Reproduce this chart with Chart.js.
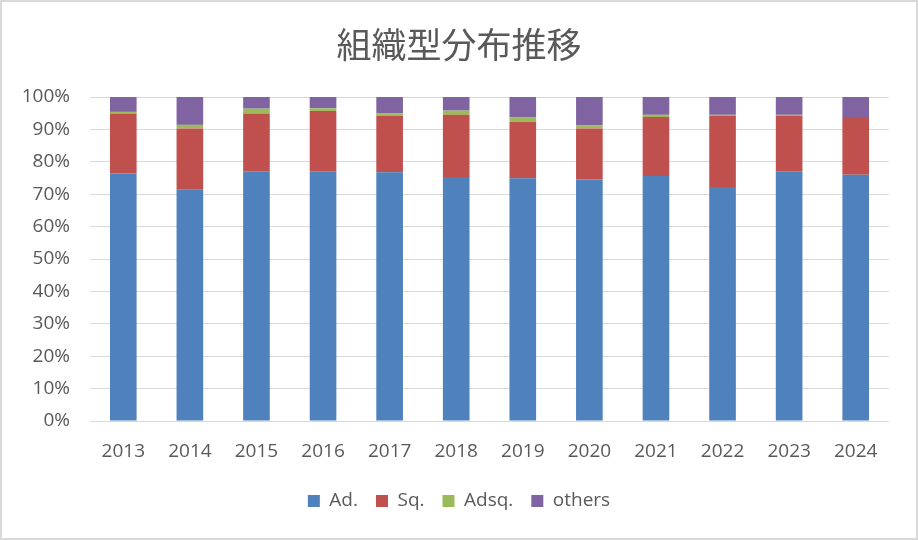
<!DOCTYPE html>
<html lang="ja">

<head>
    <meta charset="UTF-8">
    <title>組織型分布推移</title>
    <script src="https://cdn.jsdelivr.net/npm/chart.js"></script>
    <style>
        body {
            margin: 0;
            background: #fff;
        }

        .wrap {
            position: relative;
            width: 918px;
            height: 540px;
        }

        .wrap canvas {
            position: absolute;
            left: 0;
            top: 0;
        }

        .frame {
            position: absolute;
            left: 0;
            top: 0;
            width: 918px;
            height: 540px;
            box-sizing: border-box;
            border: 2px solid #d9d9d9;
            pointer-events: none;
        }
    </style>
</head>

<body>
    <div class="wrap">
        <canvas id="chart" width="918" height="540"></canvas>
        <div class="frame"></div>
    </div>

    <script>
        const years = ['2013', '2014', '2015', '2016', '2017', '2018', '2019', '2020', '2021', '2022', '2023', '2024'];
        const ad     = [76.4, 71.4, 77.1, 77.1, 76.8, 75.3, 74.9, 74.5, 75.6, 72.2, 77.1, 76.0];
        const sq     = [18.5, 18.9, 17.8, 18.6, 17.3, 19.2, 17.4, 15.8, 18.2, 22.0, 17.1, 17.8];
        const adsq   = [0.5, 1.1, 1.5, 0.8, 0.8, 1.3, 1.5, 0.9, 0.7, 0.3, 0.3, 0.0];
        const others = [4.6, 8.6, 3.6, 3.5, 5.1, 4.2, 6.2, 8.8, 5.5, 5.5, 5.5, 6.2];

        const textColor = '#595959';
        Chart.defaults.font.family = "'Open Sans', 'Noto Sans CJK JP', sans-serif";
        Chart.defaults.color = textColor;

        function series(label, data, color) {
            return {
                label: label,
                data: data,
                backgroundColor: color,
                borderWidth: 0,
                barPercentage: 0.4,
                categoryPercentage: 1.0
            };
        }

        new Chart(document.getElementById('chart'), {
            type: 'bar',
            data: {
                labels: years,
                datasets: [
                    series('Ad.', ad, '#4f81bd'),
                    series('Sq.', sq, '#c0504d'),
                    series('Adsq.', adsq, '#9bbb59'),
                    series('others', others, '#8064a2')
                ]
            },
            options: {
                responsive: false,
                animation: false,
                layout: {
                    padding: { left: 0, right: 0, top: 0, bottom: 19.5 }
                },
                scales: {
                    x: {
                        stacked: true,
                        grid: { display: false, drawTicks: false },
                        border: { display: false },
                        ticks: { padding: 19, font: { size: 19 }, color: textColor },
                        afterFit: s => { s.height -= 8.3; }
                    },
                    y: {
                        stacked: true,
                        min: 0,
                        max: 100,
                        grid: { color: '#d9d9d9', lineWidth: 1, drawTicks: false },
                        border: { display: false },
                        ticks: {
                            stepSize: 10,
                            padding: 20,
                            font: { size: 19 },
                            color: textColor,
                            callback: v => v + '%'
                        },
                        afterFit: s => { s.width = 90; }
                    },
                    // empty right-hand axis, only keeps the plot clear of the right edge
                    yRight: {
                        position: 'right',
                        display: true,
                        grid: { display: false, drawTicks: false },
                        border: { display: false },
                        ticks: { display: false },
                        afterFit: s => { s.width = 29; }
                    }
                },
                plugins: {
                    title: {
                        display: true,
                        text: '組織型分布推移',
                        color: textColor,
                        font: { family: "'Noto Sans CJK JP', sans-serif", size: 35, weight: 'normal' },
                        padding: { top: 24, bottom: 31 }
                    },
                    legend: {
                        position: 'bottom',
                        labels: {
                            boxWidth: 12,
                            boxHeight: 12,
                            padding: 18,
                            color: textColor,
                            font: { size: 19 }
                        }
                    },
                    tooltip: { enabled: false }
                }
            }
        });
    </script>
</body>

</html>
